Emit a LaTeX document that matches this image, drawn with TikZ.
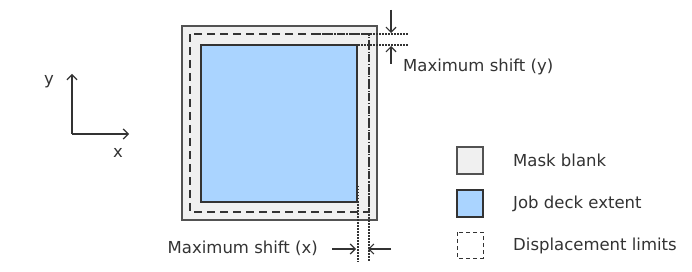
\documentclass[tikz,border=0pt]{standalone}
\usepackage{fontspec}
\setmainfont{DejaVu Sans}
\usetikzlibrary{arrows.meta}
\definecolor{ink}{HTML}{333333}
\definecolor{blankfill}{HTML}{F0F0F0}
\definecolor{deckfill}{HTML}{AAD4FF}
\tikzset{
  blankbox/.style={draw=ink!85, line width=1.3pt, fill=blankfill},
  deckbox/.style={draw=ink, line width=1.3pt, fill=deckfill},
  limitbox/.style={draw=ink, line width=1.6pt, dash pattern=on 8pt off 5pt},
  guide/.style={draw=ink, line width=1.2pt, dash pattern=on 1.5pt off 1.5pt},
  pointer/.style={draw=ink, line width=1.2pt, -{Straight Barb[length=5pt,width=10pt]}},
  lbl/.style={text=ink, font=\fontsize{16.5}{19}\selectfont, inner sep=0pt},
}
\begin{document}
\begin{tikzpicture}[x=1pt,y=-1pt]
\useasboundingbox (0,0) rectangle (692,272);
\fill[white] (0,0) rectangle (692,272);

% axes
\coordinate (o) at (72,134);
\coordinate (ytip) at (72,74);
\coordinate (xtip) at (129,134);
\draw[pointer] (o) -- (ytip);
\draw[pointer] (o) -- (xtip);
\node[lbl] (ylab) at (49,82) {y};
\node[lbl] (xlab) at (118,153) {x};

% mask blank, displacement limits and job deck
\draw[blankbox] (182,26) rectangle (377,220);
\draw[deckbox] (201,45) rectangle (357,202);
\draw[limitbox] (190,34) rectangle (369,212);

% guide lines
\coordinate (gy1a) at (313,34);  \coordinate (gy1b) at (408,34);
\coordinate (gy2a) at (313,45);  \coordinate (gy2b) at (408,45);
\coordinate (gx1a) at (358,186); \coordinate (gx1b) at (358,262);
\coordinate (gx2a) at (369,34);  \coordinate (gx2b) at (369,262);
\draw[guide] (gy1a) -- (gy1b);
\draw[guide] (gy2a) -- (gy2b);
\draw[guide] (gx1a) -- (gx1b);
\draw[guide] (gx2a) -- (gx2b);

% shift pointers
\coordinate (ya) at (391,10);  \coordinate (yat) at (391,33);
\coordinate (yb) at (391,64);  \coordinate (ybt) at (391,46);
\draw[pointer] (ya) -- (yat);
\draw[pointer] (yb) -- (ybt);
\coordinate (xa) at (332,249); \coordinate (xat) at (356,249);
\coordinate (xb) at (391,249); \coordinate (xbt) at (368,249);
\draw[pointer] (xa) -- (xat);
\draw[pointer] (xb) -- (xbt);
\node[lbl, anchor=west] (shy) at (403,67) {Maximum shift (y)};
\node[lbl, anchor=east] (shx) at (318,248) {Maximum shift (x)};

% legend
\draw[blankbox] (457,147) rectangle (483,174);
\draw[deckbox] (457,190) rectangle (483,217);
\draw[ink, line width=1pt, dash pattern=on 4pt off 3pt] (457,232) rectangle (483,258);
\node[lbl, anchor=west] (l1) at (513,160) {Mask blank};
\node[lbl, anchor=west] (l2) at (513,204) {Job deck extent};
\node[lbl, anchor=west] (l3) at (513,246) {Displacement limits};
\end{tikzpicture}
\end{document}
